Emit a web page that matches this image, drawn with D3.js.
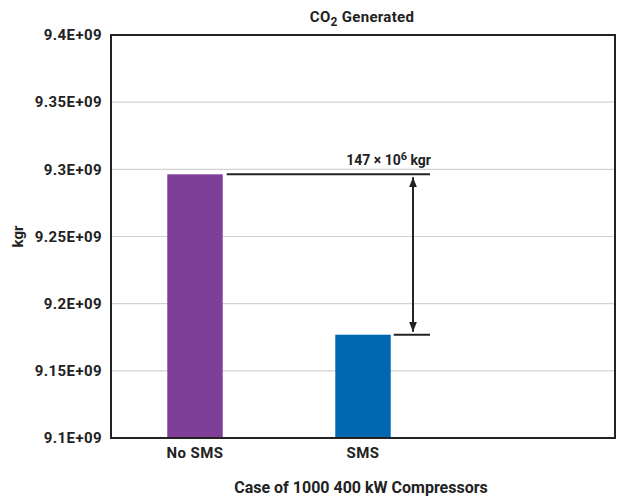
<!DOCTYPE html>
<html lang="en">
<head>
<meta charset="UTF-8">
<title>CO2 Generated</title>
<script src="https://cdn.jsdelivr.net/npm/d3@7"></script>
<style>
    body { margin: 0; background: #fff; }
    text { font-family: Roboto, "Noto Sans", sans-serif; font-weight: bold; fill: #222; }
    .grid line { stroke: #d2d2d2; stroke-width: 1.2; }
</style>
</head>
<body>
<script>
var categories = ["No SMS", "SMS", ""];
var values = [9.2963e9, 9.1769e9, null];
var yTicks = [9.1e9, 9.15e9, 9.2e9, 9.25e9, 9.3e9, 9.35e9, 9.4e9];
var tickLabels = ["9.1E+09", "9.15E+09", "9.2E+09", "9.25E+09", "9.3E+09", "9.35E+09", "9.4E+09"];
var colors = ["#7f3f98", "#0068b3", "none"];

var width = 625, height = 502;
var margin = { top: 35, right: 10, bottom: 64, left: 111 };

var svg = d3.select("body").append("svg")
    .attr("width", width)
    .attr("height", height);

var x = d3.scaleBand()
    .domain(categories)
    .range([margin.left, width - margin.right])
    .paddingInner(0.67)
    .paddingOuter(0.335);

var y = d3.scaleLinear()
    .domain([9.1e9, 9.4e9])
    .range([height - margin.bottom, margin.top]);

// grid lines
svg.append("g").attr("class", "grid")
    .selectAll("line")
    .data(yTicks.slice(1, -1))
    .enter().append("line")
    .attr("x1", margin.left)
    .attr("x2", width - margin.right)
    .attr("y1", function (d) { return y(d); })
    .attr("y2", function (d) { return y(d); });

// bars
svg.selectAll("rect.bar")
    .data(categories.filter(function (d, i) { return values[i] !== null; }))
    .enter().append("rect")
    .attr("class", "bar")
    .attr("x", function (d) { return x(d); })
    .attr("width", x.bandwidth())
    .attr("y", function (d, i) { return y(values[i]); })
    .attr("height", function (d, i) { return y(9.1e9) - y(values[i]); })
    .attr("fill", function (d, i) { return colors[i]; });

// frame
svg.append("rect")
    .attr("x", margin.left)
    .attr("y", margin.top)
    .attr("width", width - margin.left - margin.right)
    .attr("height", height - margin.top - margin.bottom)
    .attr("fill", "none")
    .attr("stroke", "#222")
    .attr("stroke-width", 2);

// y axis
var yAxis = d3.axisLeft(y)
    .tickValues(yTicks)
    .tickSize(0)
    .tickPadding(9)
    .tickFormat(function (d, i) { return tickLabels[i]; });
var gy = svg.append("g")
    .attr("transform", "translate(" + margin.left + ",0)")
    .call(yAxis);
gy.select(".domain").remove();
gy.selectAll("text")
    .style("font-size", "15px")
    .style("letter-spacing", "0.4px")
    .style("font-family", "Roboto, sans-serif")
    .style("font-weight", "bold")
    .attr("fill", "#222");

// x axis
var xAxis = d3.axisBottom(x).tickSize(0).tickPadding(9);
var gx = svg.append("g")
    .attr("transform", "translate(0," + (height - margin.bottom) + ")")
    .call(xAxis);
gx.select(".domain").remove();
gx.selectAll("text")
    .style("font-size", "15px")
    .style("letter-spacing", "0.4px")
    .style("font-family", "Roboto, sans-serif")
    .style("font-weight", "bold")
    .attr("fill", "#222");

// title
var title = svg.append("text")
    .attr("x", 362)
    .attr("y", 22)
    .attr("text-anchor", "middle")
    .style("font-size", "15px")
    .style("letter-spacing", "0.3px");
title.append("tspan").text("CO");
title.append("tspan").text("2").attr("dy", 4).style("font-size", "12px");
title.append("tspan").text(" Generated").attr("dy", -4);

// axis titles
svg.append("text")
    .attr("transform", "translate(23," + y(9.25e9) + ") rotate(-90)")
    .attr("text-anchor", "middle")
    .style("font-size", "15px")
    .text("kgr");

svg.append("text")
    .attr("x", 361)
    .attr("y", 493)
    .attr("text-anchor", "middle")
    .style("font-size", "16px")
    .text("Case of 1000 400 kW Compressors");

// difference annotation
var hi = values[0], lo = values[1];
var lineEnd = 430, arrowX = 413;
svg.append("line")
    .attr("x1", x("No SMS") + x.bandwidth() + 4).attr("x2", lineEnd)
    .attr("y1", y(hi)).attr("y2", y(hi))
    .attr("stroke", "#222").attr("stroke-width", 2);
svg.append("line")
    .attr("x1", x("SMS") + x.bandwidth() + 3).attr("x2", lineEnd)
    .attr("y1", y(lo)).attr("y2", y(lo))
    .attr("stroke", "#222").attr("stroke-width", 2);

var defs = svg.append("defs");
defs.append("marker")
    .attr("id", "arrow")
    .attr("viewBox", "0 0 10 10")
    .attr("refX", 10).attr("refY", 5)
    .attr("markerWidth", 10).attr("markerHeight", 18)
    .attr("markerUnits", "userSpaceOnUse")
    .attr("orient", "auto-start-reverse")
    .append("path")
    .attr("d", "M0,1 L10,5 L0,9 Z")
    .attr("fill", "#222");

svg.append("line")
    .attr("x1", arrowX).attr("x2", arrowX)
    .attr("y1", y(hi) + 3).attr("y2", y(lo) - 3)
    .attr("stroke", "#222").attr("stroke-width", 2)
    .attr("marker-start", "url(#arrow)")
    .attr("marker-end", "url(#arrow)");

var ann = svg.append("text")
    .attr("x", 431)
    .attr("y", y(hi) - 9)
    .attr("text-anchor", "end")
    .style("font-size", "14px");
ann.append("tspan").text("147 × 10");
ann.append("tspan").text("6").attr("dy", -5).style("font-size", "11px");
ann.append("tspan").text(" kgr").attr("dy", 5);
</script>
</body>
</html>
